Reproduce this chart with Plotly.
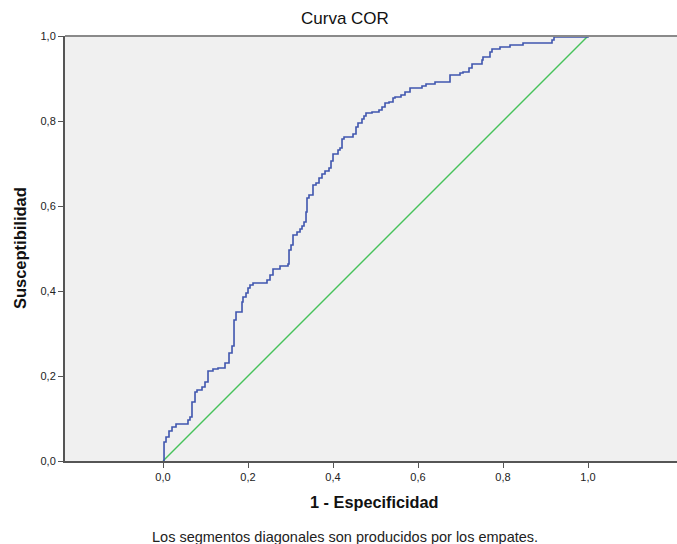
import plotly.graph_objects as go

# ROC curve vertices: at each false-positive rate the curve rises to the given sensitivity
fpr = [0.0, 0.0024, 0.0071, 0.0141, 0.0212, 0.0306, 0.0588, 0.0635, 0.0682, 0.0753,
       0.0800, 0.0918, 0.0988, 0.1059, 0.1176, 0.1294, 0.1459, 0.1553, 0.1624, 0.1671,
       0.1718, 0.1859, 0.1882, 0.1953, 0.2000, 0.2047, 0.2118, 0.2447, 0.2518, 0.2588,
       0.2753, 0.2941, 0.2965, 0.3012, 0.3059, 0.3153, 0.3224, 0.3271, 0.3318, 0.3365,
       0.3388, 0.3435, 0.3529, 0.3600, 0.3671, 0.3741, 0.3812, 0.3906, 0.3953, 0.4000,
       0.4118, 0.4165, 0.4212, 0.4259, 0.4471, 0.4541, 0.4588, 0.4682, 0.4729, 0.4776,
       0.4918, 0.5082, 0.5153, 0.5224, 0.5318, 0.5412, 0.5459, 0.5600, 0.5694, 0.5812,
       0.6094, 0.6188, 0.6400, 0.6753, 0.6988, 0.7059, 0.7200, 0.7271, 0.7506, 0.7529,
       0.7694, 0.7741, 0.7929, 0.8165, 0.8471, 0.9153, 0.9200, 0.9953, 1.0]
tpr = [0.0, 0.0447, 0.0565, 0.0706, 0.0800, 0.0871, 0.0965, 0.1035, 0.1388, 0.1624,
       0.1671, 0.1741, 0.1859, 0.2118, 0.2165, 0.2188, 0.2306, 0.2541, 0.2706, 0.3318,
       0.3506, 0.3741, 0.3859, 0.3953, 0.4071, 0.4141, 0.4188, 0.4259, 0.4376, 0.4518,
       0.4588, 0.4635, 0.4965, 0.5082, 0.5318, 0.5388, 0.5459, 0.5529, 0.5624, 0.5859,
       0.6188, 0.6259, 0.6494, 0.6541, 0.6659, 0.6753, 0.6824, 0.6894, 0.7059, 0.7224,
       0.7318, 0.7365, 0.7576, 0.7624, 0.7694, 0.7859, 0.7953, 0.8047, 0.8118, 0.8188,
       0.8212, 0.8259, 0.8329, 0.8424, 0.8447, 0.8541, 0.8565, 0.8612, 0.8682, 0.8776,
       0.8824, 0.8871, 0.8918, 0.9082, 0.9129, 0.9153, 0.9247, 0.9341, 0.9435, 0.9506,
       0.9624, 0.9694, 0.9741, 0.9788, 0.9835, 0.9906, 0.9976, 0.9976, 1.0]

# Reference (chance) line
ref_x = [0.0, 1.0]
ref_y = [0.0, 1.0]

tick_vals = [0.0, 0.2, 0.4, 0.6, 0.8, 1.0]

FONT = "Liberation Sans, Arial, sans-serif"
AXIS_COLOR = "#555555"

fig = go.Figure()
fig.add_trace(go.Scatter(
    x=ref_x, y=ref_y, mode="lines",
    line=dict(color="#46C25A", width=1.4),
    hoverinfo="skip", showlegend=False,
))
fig.add_trace(go.Scatter(
    x=fpr, y=tpr, mode="lines",
    line=dict(color="#3F55AE", width=1.6, shape="hv"),
    showlegend=False,
))

fig.update_layout(
    width=677, height=544,
    margin=dict(l=65, r=0, t=36, b=83),
    paper_bgcolor="white",
    plot_bgcolor="#F0F0F0",
    separators=",.",
    font=dict(family=FONT, size=11, color="#222222"),
    xaxis=dict(
        range=[-0.2306, 1.2094], showgrid=False, zeroline=False,
        tickvals=tick_vals, tickformat=".1f",
        ticks="outside", ticklen=5, tickwidth=1, tickcolor=AXIS_COLOR,
        showline=True, linecolor=AXIS_COLOR, linewidth=2,
        tickfont=dict(size=11, color="#222222"),
    ),
    yaxis=dict(
        range=[0, 1], showgrid=False, zeroline=False,
        tickvals=tick_vals, tickformat=".1f",
        ticks="outside", ticklen=5, tickwidth=1, tickcolor=AXIS_COLOR,
        showline=True, linecolor=AXIS_COLOR, linewidth=2,
        tickfont=dict(size=11, color="#222222"),
    ),
    shapes=[dict(
        type="line", xref="paper", yref="paper",
        x0=0, x1=1, y0=1, y1=1,
        line=dict(color="#8A8A8A", width=2),
    )],
    annotations=[
        dict(text="Curva COR", xref="paper", yref="paper",
             x=0.4575, y=1.04, xanchor="center", yanchor="middle",
             showarrow=False, font=dict(size=17, color="#111111")),
        dict(text="<b>1 - Especificidad</b>", xref="paper", yref="paper",
             x=0.5065, y=-0.0965, xanchor="center", yanchor="middle",
             showarrow=False, font=dict(size=16.3, color="#111111")),
        dict(text="<b>Susceptibilidad</b>", xref="paper", yref="paper",
             x=-0.0735, y=0.501, xanchor="center", yanchor="middle",
             textangle=-90, showarrow=False, font=dict(size=16.5, color="#111111")),
        dict(text="Los segmentos diagonales son producidos por los empates.",
             xref="paper", yref="paper", x=0.4575, y=-0.179,
             xanchor="center", yanchor="middle",
             showarrow=False, font=dict(size=14.5, color="#222222")),
    ],
)

fig.write_html("out.html")
